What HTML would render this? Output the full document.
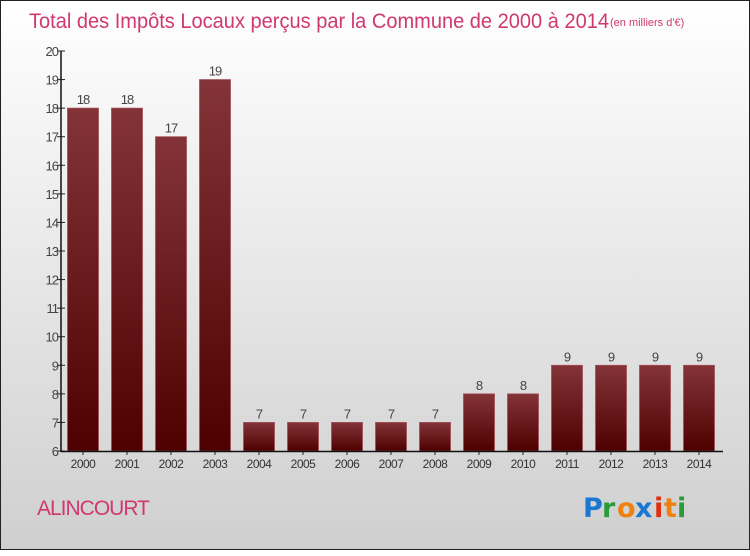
<!DOCTYPE html>
<html><head><meta charset="utf-8"><style>
body{margin:0;width:750px;height:550px;overflow:hidden;font-family:"Liberation Sans",sans-serif}
#frame{position:absolute;left:0;top:0;width:748px;height:548px;border:1px solid #222;background:linear-gradient(#ffffff,#cfcfcf)}
</style></head><body>
<div id="frame">
<svg width="750" height="550" id="chart">
<defs><linearGradient id="bg" x1="0" y1="0" x2="0" y2="1"><stop offset="0" stop-color="#843438"/><stop offset="1" stop-color="#4e0000"/></linearGradient></defs>
<text x="28" y="27" font-size="21" fill="#d03870" textLength="580" lengthAdjust="spacingAndGlyphs">Total des Impôts Locaux perçus par la Commune de 2000 à 2014</text>
<text x="609" y="25" font-size="11" fill="#d03870">(en milliers d'€)</text>
<text x="36" y="514" font-size="21" fill="#d03870" letter-spacing="-1">ALINCOURT</text>
<g font-size="27" font-family="DejaVu Sans, sans-serif" font-weight="bold">
<text x="582" y="516" fill="#1a78d0">P</text><text x="601" y="516" fill="#2a9a3a">r</text><text x="616" y="516" fill="#f08010">o</text><text x="634" y="516" fill="#1a78d0">x</text><text x="653" y="516" fill="#e03010">i</text><text x="663" y="516" fill="#f08010">t</text><text x="676" y="516" fill="#2a9a3a">i</text>
</g>
<g id="plot"></g>
</svg></div>
<script>
const years=["2000","2001","2002","2003","2004","2005","2006","2007","2008","2009","2010","2011","2012","2013","2014"];
const values=[18,18,17,19,7,7,7,7,7,8,8,9,9,9,9];
const yTicks=[6,7,8,9,10,11,12,13,14,15,16,17,18,19,20];
const NS="http://www.w3.org/2000/svg";
const g=document.getElementById('plot');
const y=v=>450-(v-6)*400/14;
const x=i=>82+i*44;
function el(t,a,txt){const e=document.createElementNS(NS,t);for(const k in a)e.setAttribute(k,a[k]);if(txt!=null)e.textContent=txt;g.appendChild(e);return e;}
yTicks.forEach(t=>{
 const tk=el('line',{x1:56,x2:64,y1:y(t),y2:y(t),stroke:'#222'});
 
 const l=el('text',{x:57,y:y(t)+5,'font-size':13,'text-anchor':'end',fill:'#444','letter-spacing':'-1'},t);
 
});
values.forEach((v,i)=>{
 const r=el('rect',{x:x(i)-15.5,y:y(v),width:31,height:450-y(v),fill:'url(#bg)',stroke:'#a05058','stroke-width':0.8});
 
 const vl=el('text',{x:x(i),y:y(v)-4,'font-size':13,'text-anchor':'middle',fill:'#444','letter-spacing':'-1'},v);
 
 const xl=el('text',{x:x(i),y:467,'font-size':12,'text-anchor':'middle',fill:'#333','letter-spacing':'-0.5'},years[i]);
 
 const xt=el('line',{x1:x(i),x2:x(i),y1:450,y2:454,stroke:'#222'});
 
});
const ya=el('line',{x1:60,x2:60,y1:50,y2:451,stroke:'#111','stroke-width':1.5});

const xa=el('line',{x1:60,x2:722,y1:450.5,y2:450.5,stroke:'#111','stroke-width':1.5});

</script>
</body></html>
